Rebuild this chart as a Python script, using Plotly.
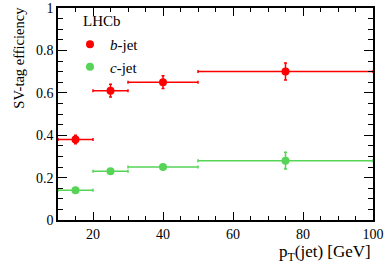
import plotly.graph_objects as go

# Data
bin_lo = [10, 20, 30, 50]
bin_hi = [20, 30, 50, 100]
b_eff = [0.38, 0.61, 0.65, 0.70]
b_err = [0.02, 0.03, 0.03, 0.04]
c_eff = [0.14, 0.23, 0.25, 0.28]
c_err = [0.01, 0.01, 0.01, 0.04]
x_ticks = [20, 40, 60, 80, 100]
y_ticks = [0, 0.2, 0.4, 0.6, 0.8, 1]
y_tick_text = ["0", "0.2", "0.4", "0.6", "0.8", "1"]

centers = [(lo + hi) / 2 for lo, hi in zip(bin_lo, bin_hi)]
half_w = [(hi - lo) / 2 for lo, hi in zip(bin_lo, bin_hi)]

RED = "#ff0000"
GREEN = "#55d455"
FONT = "Liberation Serif"

fig = go.Figure()
for name, vals, errs, col, grp in [
    ("<i>b</i>-jet", b_eff, b_err, RED, "b"),
    ("<i>c</i>-jet", c_eff, c_err, GREEN, "c"),
]:
    fig.add_trace(go.Scatter(
        x=centers, y=vals, mode="markers", name=name, legendgroup=grp,
        marker=dict(color=col, size=8, symbol="circle"),
        error_x=dict(type="data", array=half_w, color=col, thickness=1.5, width=1.5),
        error_y=dict(type="data", array=errs, color=col, thickness=1.5, width=1.5),
        cliponaxis=False,
    ))

axis_common = dict(
    showline=True, linecolor="black", linewidth=1.5, mirror="allticks",
    ticks="inside", tickcolor="black", tickwidth=1.2,
    showgrid=False, zeroline=False,
    tickfont=dict(family=FONT, size=14, color="black"),
)

fig.update_xaxes(range=[10, 100], tickvals=x_ticks, ticklen=8,
                 minor=dict(dtick=5, tick0=0, ticklen=4, ticks="inside",
                            tickcolor="black", tickwidth=1.2, showgrid=False),
                 **axis_common)
fig.update_yaxes(range=[0, 1], tickvals=y_ticks, ticktext=y_tick_text, ticklen=9,
                 minor=dict(dtick=0.05, tick0=0, ticklen=5, ticks="inside",
                            tickcolor="black", tickwidth=1.2, showgrid=False),
                 **axis_common)

fig.add_annotation(text="SV-tag efficiency", xref="paper", yref="paper",
                   x=-0.125, y=1.014, xanchor="center", yanchor="top",
                   textangle=-90, showarrow=False,
                   font=dict(family=FONT, size=14.5, color="black"))
fig.add_annotation(text="p<sub>T</sub>(jet) [GeV]", xref="paper", yref="paper",
                   x=1.0, y=-0.095, xanchor="right", yanchor="top",
                   showarrow=False, font=dict(family=FONT, size=17, color="black"))
fig.add_annotation(text="LHCb", xref="paper", yref="paper",
                   x=(81 - 58) / 315, y=(220 - 21.5) / 212, xanchor="left", yanchor="middle",
                   showarrow=False, font=dict(family=FONT, size=15, color="black"))

fig.update_layout(
    width=392, height=266, autosize=False,
    margin=dict(l=58, r=19, t=8, b=46, autoexpand=False),
    paper_bgcolor="white", plot_bgcolor="white",
    showlegend=True,
    legend=dict(x=(70 - 58) / 315, y=(220 - 28) / 212, xanchor="left", yanchor="top",
                bgcolor="rgba(0,0,0,0)", font=dict(family=FONT, size=15, color="black"),
                tracegroupgap=0, itemwidth=30),
)

fig.write_html("out.html",
               config={"displayModeBar": False, "responsive": False},
               post_script="document.body.style.margin='0';document.body.style.overflow='hidden';")
